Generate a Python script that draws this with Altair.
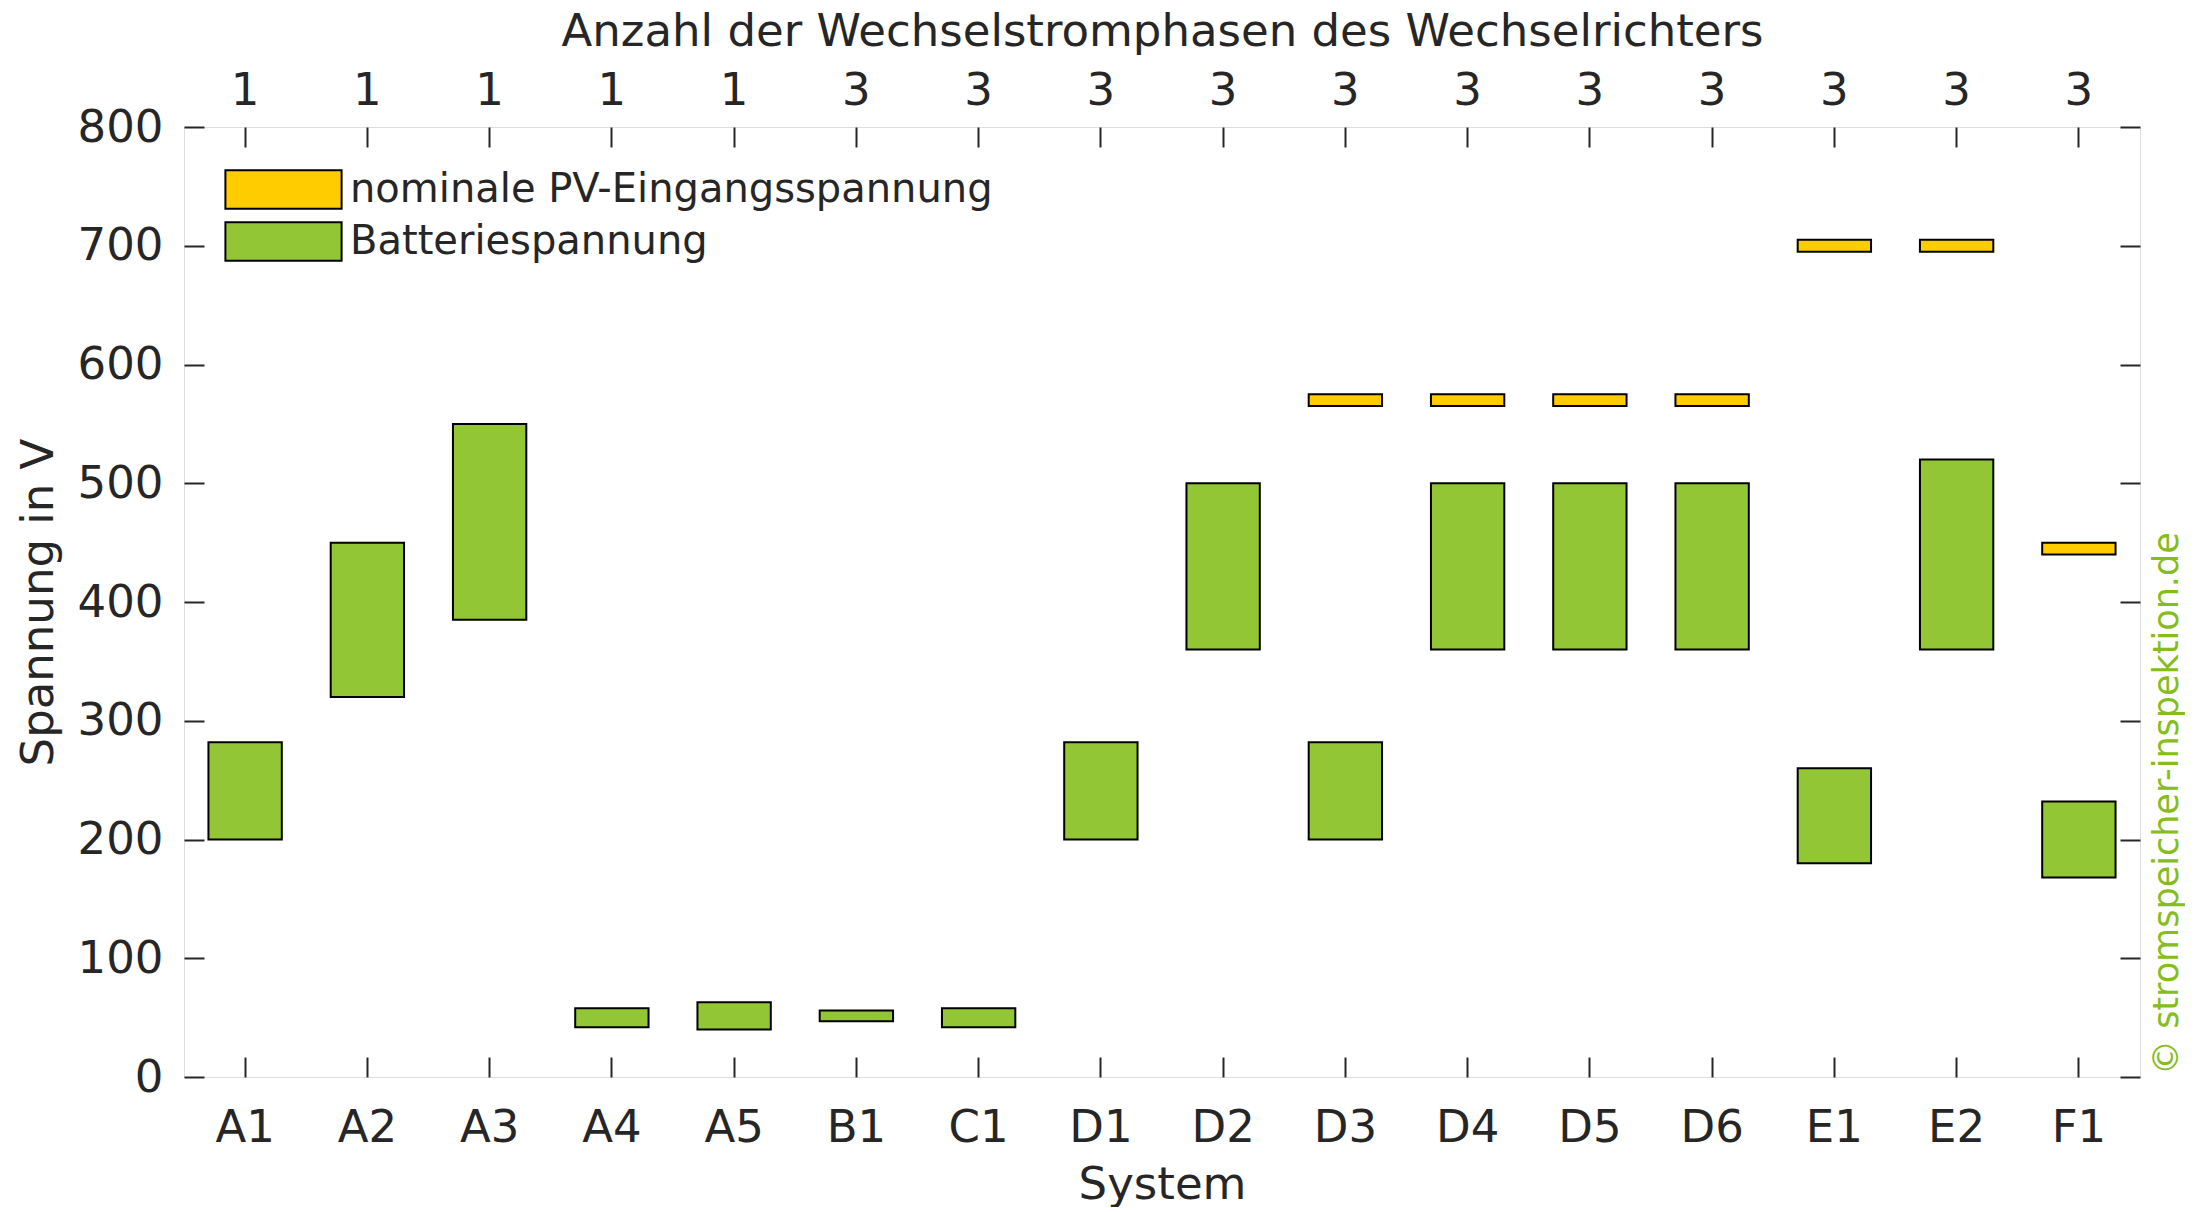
import altair as alt
import pandas as pd

# ---------------- data ----------------
systems = ["A1", "A2", "A3", "A4", "A5", "B1", "C1", "D1",
           "D2", "D3", "D4", "D5", "D6", "E1", "E2", "F1"]
phases = ["1", "1", "1", "1", "1", "3", "3", "3",
          "3", "3", "3", "3", "3", "3", "3", "3"]
bat_low = [200, 320, 385, 42, 40, 47, 42, 200, 360, 200, 360, 360, 360, 180, 360, 168]
bat_high = [282, 450, 550, 58, 63, 56, 58, 282, 500, 282, 500, 500, 500, 260, 520, 232]

pv_systems = ["D3", "D4", "D5", "D6", "E1", "E2", "F1"]
pv_low = [565, 565, 565, 565, 695, 695, 440]
pv_high = [575, 575, 575, 575, 705, 705, 450]

y_ticks = [0, 100, 200, 300, 400, 500, 600, 700, 800]

series_pv = "nominale PV-Eingangsspannung"
series_bat = "Batteriespannung"
watermark = "© stromspeicher-inspektion.de"

bat_df = pd.DataFrame({"System": systems, "low": bat_low, "high": bat_high, "Serie": series_bat})
pv_df = pd.DataFrame({"System": pv_systems, "low": pv_low, "high": pv_high, "Serie": series_pv})
wm_df = pd.DataFrame({"t": [watermark]})

# ---------------- style ----------------
FONT = "DejaVu Sans"
TXT = "#262626"
W, H = 1956, 950
GREEN = "#92c634"
YELLOW = "#ffcc00"

xscale = alt.Scale(domain=systems, paddingInner=0.4, paddingOuter=0.2)
yscale = alt.Scale(domain=[0, 800], nice=False)

sys_arr = "[" + ",".join("'%s'" % s for s in systems) + "]"
ph_arr = "[" + ",".join("'%s'" % p for p in phases) + "]"
phase_expr = "%s[indexof(%s, datum.value)]" % (ph_arr, sys_arr)

common_axis = dict(
    domain=False, grid=False, tickSize=20, tickWidth=2, tickColor=TXT,
    offset=-20, labelFont=FONT, labelFontSize=45, labelColor=TXT,
    titleFont=FONT, titleFontSize=45, titleColor=TXT, titleFontWeight="normal",
)

color = alt.Color(
    "Serie:N",
    scale=alt.Scale(domain=[series_pv, series_bat], range=[YELLOW, GREEN]),
    legend=alt.Legend(
        title=None, orient="none", legendX=79, legendY=42, padding=0,
        symbolType="M-3,-1L3,-1L3,1L-3,1Z", symbolSize=1500,
        symbolStrokeColor="black", symbolStrokeWidth=2, symbolOpacity=1,
        labelFont=FONT, labelFontSize=40, labelColor=TXT, labelLimit=2000,
        labelOffset=46, rowPadding=5,
    ),
)

bat = alt.Chart(bat_df).mark_bar(stroke="black", strokeWidth=2, opacity=1).encode(
    x=alt.X("System:N", scale=xscale, sort=systems,
            axis=alt.Axis(orient="bottom", title="System", labelAngle=0,
                          labelPadding=28, titlePadding=12, titleLimit=1900,
                          **common_axis)),
    y=alt.Y("low:Q", scale=yscale,
            axis=alt.Axis(orient="left", title="Spannung in V", values=y_ticks,
                          labelPadding=21, titlePadding=16, **common_axis)),
    y2="high:Q",
    color=color,
)

pv = alt.Chart(pv_df).mark_bar(stroke="black", strokeWidth=2, opacity=1).encode(
    x=alt.X("System:N", scale=xscale, sort=systems,
            axis=alt.Axis(orient="top", title="Anzahl der Wechselstromphasen des Wechselrichters",
                          labelExpr=phase_expr, labelAngle=0, titleLimit=1900,
                          labelPadding=14, titlePadding=14, **common_axis)),
    y=alt.Y("low:Q", scale=yscale,
            axis=alt.Axis(orient="right", title=None, labels=False, values=y_ticks,
                          **common_axis)),
    y2="high:Q",
    color=color,
)

wm = alt.Chart(wm_df).mark_text(
    angle=270, align="left", baseline="middle", font=FONT, fontSize=35, color="#84bd1c"
).encode(
    text="t:N",
    x=alt.value(W + 27),
    y=alt.value(H - 2),
)

chart = (
    alt.layer(bat, pv, wm)
    .resolve_axis(x="independent", y="independent")
    .properties(width=W, height=H, padding={"left": 8, "top": 1, "right": 0, "bottom": 0})
    .configure_view(stroke=TXT, strokeWidth=2)
    .configure(background="white")
)

chart.save("out.html", embed_options={"renderer": "svg", "actions": False})
